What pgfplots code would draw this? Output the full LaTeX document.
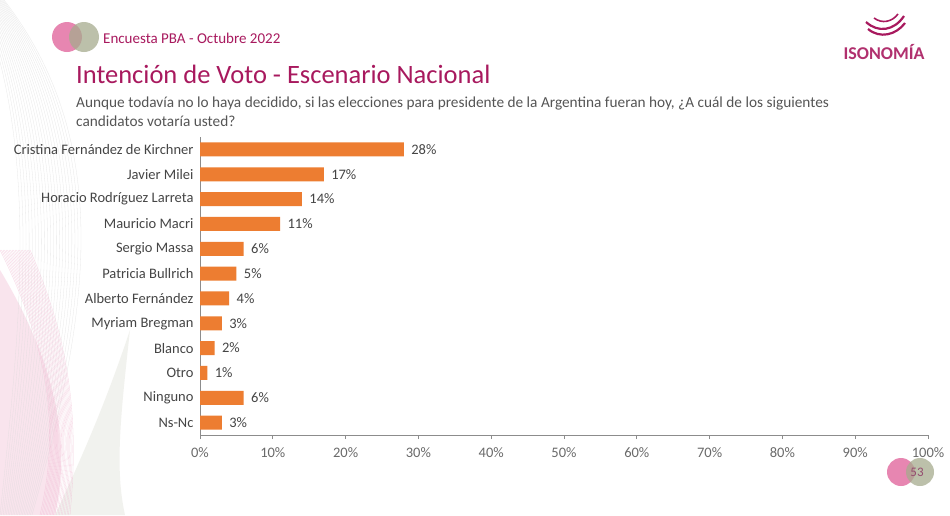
\documentclass[border=0pt]{standalone}
\usepackage{pgfplots}
\pgfplotsset{compat=1.18}
\usepackage{fontspec}
\setmainfont{Carlito}

\definecolor{barorange}{HTML}{ED7D31}
\definecolor{brand}{HTML}{A8195E}
\definecolor{txtgray}{HTML}{454545}
\definecolor{subgray}{HTML}{555555}
\definecolor{axgray}{HTML}{8C8C8C}
\definecolor{dotpink}{HTML}{E2689E}
\definecolor{dotsage}{HTML}{A6AB8E}

\begin{document}
\begin{tikzpicture}[x=1pt,y=-1pt]
% page frame
\path[use as bounding box] (0,0) rectangle (950,515);
\fill[white] (0,0) rectangle (950,515);

% decorative swirl on the left edge
\begin{scope}
\clip (0,0) rectangle (200,515);
\fill[dotpink!30,opacity=0.6] (0,270) .. controls (60,370) and (70,450) .. (55,515) -- (0,515) -- cycle;
\fill[dotsage!25,opacity=0.6] (55,515) .. controls (90,440) and (110,390) .. (130,330) .. controls (120,420) and (115,470) .. (125,515) -- cycle;
\foreach \r in {0,4,...,80}{
  \draw[gray!30,line width=0.3pt,opacity=0.6] (-20+\r*0.3,0) .. controls (40+\r,150) and (20+\r*0.8,330) .. (\r*0.4,515);
}
\foreach \r in {0,3,...,60}{
  \draw[dotpink!50,line width=0.3pt,opacity=0.6] (\r*0.5,250) .. controls (50+\r*0.4,350) and (60+\r*0.3,430) .. (40+\r*0.5,515);
}
\end{scope}

% header dots
\fill[dotpink,opacity=0.8] (67,37) circle (15);
\fill[dotsage,opacity=0.75] (84,37) circle (15);
\node[anchor=west,text=brand,font=\fontsize{15}{17}\selectfont,inner sep=0pt] at (103,38) {Encuesta PBA - Octubre 2022};

% logo
\begin{scope}[brand,line width=2.2pt]
\draw (866,22) .. controls (878,33) and (894,31) .. (904,16);
\draw (868,29) .. controls (880,39) and (896,35) .. (905,23);
\draw[line width=1.6pt] (874,18) .. controls (882,24) and (892,22) .. (898,14);
\end{scope}
\node[text=brand!90,font=\fontsize{18}{20}\selectfont\bfseries] at (884,52) {ISONOMÍA};

% titles
\node[anchor=base west,text=brand,font=\fontsize{26.5}{30}\selectfont,inner sep=0pt] at (76,83) {Intención de Voto - Escenario Nacional};
\node[anchor=base west,text=subgray,font=\fontsize{15.3}{19}\selectfont,inner sep=0pt,align=left] at (76,126)
  {Aunque todavía no lo haya decidido, si las elecciones para presidente de la Argentina fueran hoy, ¿A cuál de los siguientes\\candidatos votaría usted?};

% page number dots
\fill[dotpink,opacity=0.8] (901,472) circle (14);
\fill[dotsage,opacity=0.75] (920,472) circle (14);
\node[text=brand!50!gray,font=\fontsize{13}{15}\selectfont] at (917,472) {53};

\begin{axis}[
  at={(200pt,-435pt)}, anchor=south west,
  scale only axis, width=728pt, height=298pt,
  xmin=0, xmax=100, ymin=-0.5, ymax=11.5, y dir=reverse,
  axis lines*=left,
  axis line style={axgray,line width=0.8pt},
  xtick={0,10,...,100},
  xticklabel={\pgfmathprintnumber{\tick}\%},
  ytick={0,...,11},
  yticklabels={Cristina Fernández de Kirchner,Javier Milei,Horacio Rodríguez Larreta,Mauricio Macri,Sergio Massa,Patricia Bullrich,Alberto Fernández,Myriam Bregman,Blanco,Otro,Ninguno,Ns-Nc},
  tick align=outside,
  major tick length=4pt,
  x tick style={axgray,line width=0.8pt},
  y tick style={draw=none},
  tick label style={text=txtgray,font=\fontsize{14.5}{16}\selectfont},
  xticklabel style={text=txtgray!80,yshift=-5pt},
  yticklabel style={xshift=1pt},
  /pgf/number format/assume math mode=true,
  xbar, bar width=14pt,
  nodes near coords={\pgfmathprintnumber{\pgfplotspointmeta}\%},
  nodes near coords style={text=txtgray,font=\fontsize{14.5}{16}\selectfont,anchor=west,xshift=4pt},
  clip=false,
]
\addplot[fill=barorange,draw=none] coordinates {
  (28,0) (17,1) (14,2) (11,3) (6,4) (5,5) (4,6) (3,7) (2,8) (1,9) (6,10) (3,11)
};
\end{axis}
\end{tikzpicture}
\end{document}
